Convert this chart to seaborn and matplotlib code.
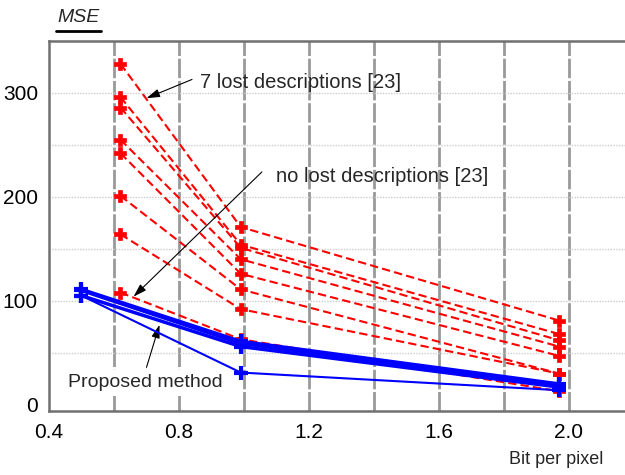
import matplotlib
matplotlib.use("Agg")
import matplotlib.pyplot as plt
import seaborn as sns
import pandas as pd

# bit rates (x) for the two families of curves
bpp_ref = [0.62, 0.99, 1.97]
bpp_prop = [0.50, 0.99, 1.97]

# reference method [23], 7 lost descriptions (one curve per case)
mse_lost7 = [
    [328, 171, 81],
    [296, 154, 68],
    [286, 151, 62],
    [255, 140, 56],
    [242, 126, 47],
    [201, 111, 30],
    [164, 92, 30],
]
# reference method [23], no lost descriptions
mse_nolost = [108, 63, 13]

# proposed method curves
mse_proposed = [
    [111, 61, 20],
    [110, 59, 19],
    [105, 56, 17],
    [105, 31, 14],
]
prop_widths = [2.5, 2.5, 2.5, 1.5]

sns.set_style("white")
plt.rcParams["font.family"] = ["Liberation Sans", "DejaVu Sans"]

fig = plt.figure(figsize=(6.25, 4.75), dpi=100)
ax = fig.add_axes([49 / 625, 1 - 411 / 475, 585 / 625, 370 / 475])

# grid: dashed verticals every 0.2, dotted horizontals every 50
for gx in [0.6, 0.8, 1.0, 1.2, 1.4, 1.6, 1.8, 2.0]:
    ax.axvline(gx, color="#999999", lw=2, dashes=(7, 1), zorder=0)
for gy in [50, 100, 150, 200, 250, 300]:
    ax.axhline(gy, color="#cccccc", lw=1, ls=(0, (1, 1)), zorder=0)

red_rows = []
for i, ys in enumerate(mse_lost7 + [mse_nolost]):
    for x, y in zip(bpp_ref, ys):
        red_rows.append({"bpp": x, "mse": y, "curve": f"r{i}"})
red = pd.DataFrame(red_rows)
for name, grp in red.groupby("curve"):
    sns.lineplot(data=grp, x="bpp", y="mse", ax=ax, color="red", lw=1.5,
                 linestyle=(0, (4, 2)), marker="P", markersize=9,
                 markeredgecolor="red", markeredgewidth=0.5,
                 sort=False, estimator=None, zorder=3)

for ys, w in zip(mse_proposed, prop_widths):
    sns.lineplot(x=bpp_prop, y=ys, ax=ax, color="blue", lw=w, marker="+",
                 markersize=10, markeredgecolor="blue", markeredgewidth=3,
                 sort=False, estimator=None, zorder=4)

ax.set_xlim(0.4, 2.2)
ax.set_ylim(-6, 350)
ax.set_xticks([0.4, 0.8, 1.2, 1.6, 2.0])
ax.set_xticklabels(["0.4", "0.8", "1.2", "1.6", "2.0"])
ax.set_yticks([0, 100, 200, 300])
ax.tick_params(length=0, labelsize=15, colors="black")
ax.tick_params(axis="x", pad=9)
ax.tick_params(axis="y", pad=8)
ax.set_xlabel("")
ax.set_ylabel("")
for side in ["left", "top", "bottom"]:
    ax.spines[side].set_color("#707070")
    ax.spines[side].set_linewidth(1.8)
ax.spines["right"].set_visible(False)

arrow = dict(arrowstyle="-|>,head_length=0.8,head_width=0.25", color="black",
             lw=0.8, shrinkA=0, shrinkB=0)
ax.annotate("", xy=(0.70, 295), xytext=(0.84, 313), arrowprops=arrow)
ax.text(0.865, 310, "7 lost descriptions [23]", fontsize=14.5, va="center")
ax.annotate("", xy=(0.66, 104), xytext=(1.055, 224), arrowprops=arrow)
ax.text(1.10, 220, "no lost descriptions [23]", fontsize=14.5, va="center")
ax.annotate("", xy=(0.74, 77), xytext=(0.70, 36), arrowprops=arrow)
ax.text(0.695, 21, "Proposed method", fontsize=14, ha="center", va="center",
        bbox=dict(facecolor="white", edgecolor="none", pad=3), zorder=5)

fig.text(57 / 625, 1 - 17 / 475, "MSE", fontsize=14, style="italic", va="center")
fig.add_artist(plt.Line2D([56 / 625, 101 / 625], [1 - 31 / 475, 1 - 31 / 475],
                          color="black", lw=2))
fig.text(556 / 625, 1 - 460 / 475, "Bit per pixel", fontsize=13,
         ha="center", va="center")

fig.savefig("out.png", dpi=100)
